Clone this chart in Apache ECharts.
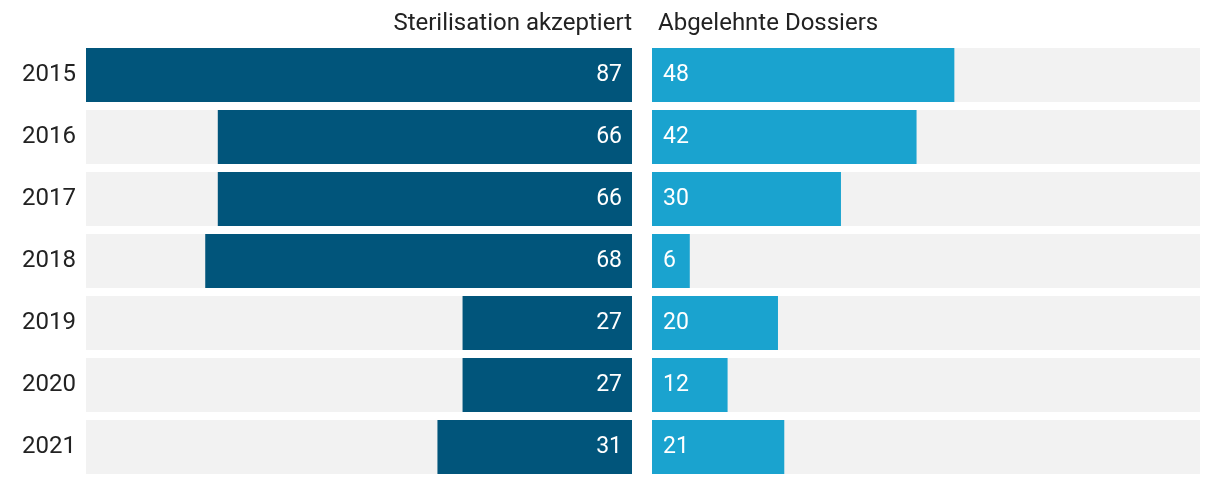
<!DOCTYPE html>
<html><head><meta charset="utf-8">
<script src="https://cdn.jsdelivr.net/npm/echarts@6/dist/echarts.min.js"></script>
<style>html,body{margin:0;padding:0;background:#fff}#c{width:1220px;height:484px}</style>
</head><body><div id="c"></div>
<script>
const years = ['2015','2016','2017','2018','2019','2020','2021'];
const sterilisation = [87,66,66,68,27,27,31];
const abgelehnt = [48,42,30,6,20,12,21];
const titles = ['Sterilisation akzeptiert','Abgelehnte Dossiers'];
const maxVal = 87;
const FONT = 'Roboto';
const chart = echarts.init(document.getElementById('c'));
chart.setOption({
  animation:false,
  textStyle:{fontFamily:FONT},
  title:[
    {text:titles[0], right:583, top:7, textStyle:{fontFamily:FONT,fontSize:24,fontWeight:'normal',color:'#222'}},
    {text:titles[1], left:653, top:7, textStyle:{fontFamily:FONT,fontSize:24,fontWeight:'normal',color:'#222'}}
  ],
  grid:[
    {left:86, right:588, top:44, bottom:6},
    {left:652, right:20, top:44, bottom:6}
  ],
  xAxis:[
    {type:'value', gridIndex:0, min:0, max:maxVal, inverse:true, show:false},
    {type:'value', gridIndex:1, min:0, max:maxVal, show:false}
  ],
  yAxis:[
    {type:'category', gridIndex:0, data:years, inverse:true, axisLine:{show:false}, axisTick:{show:false},
     axisLabel:{fontFamily:FONT, fontSize:24, color:'#222', margin:10}},
    {type:'category', gridIndex:1, data:years, inverse:true, axisLine:{show:false}, axisTick:{show:false}, axisLabel:{show:false}}
  ],
  series:[
    {type:'bar', xAxisIndex:0, yAxisIndex:0, data:sterilisation, barWidth:54,
     itemStyle:{color:'#01557b'}, showBackground:true, backgroundStyle:{color:'#f2f2f2'},
     label:{show:true, position:'insideRight', distance:10, color:'#fff', fontFamily:FONT, fontSize:23}},
    {type:'bar', xAxisIndex:1, yAxisIndex:1, data:abgelehnt, barWidth:54,
     itemStyle:{color:'#1aa3cf'}, showBackground:true, backgroundStyle:{color:'#f2f2f2'},
     label:{show:true, position:'insideLeft', distance:11, color:'#fff', fontFamily:FONT, fontSize:23}}
  ]
});
</script></body></html>
